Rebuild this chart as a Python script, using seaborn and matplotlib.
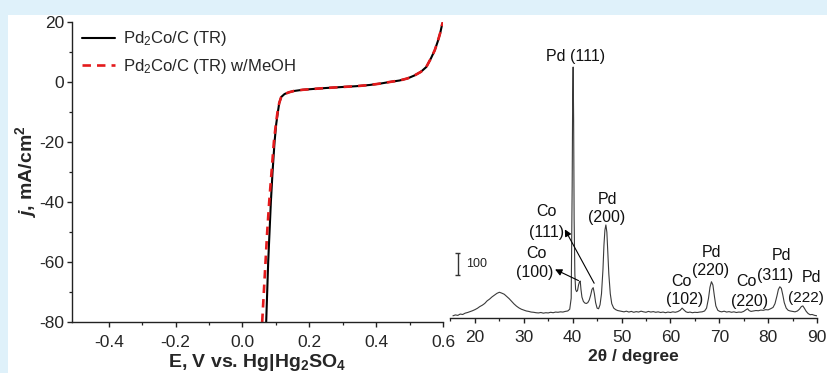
import matplotlib
matplotlib.use("Agg")
import matplotlib.pyplot as plt
from matplotlib.patches import Rectangle
from matplotlib.ticker import MultipleLocator, FixedLocator
import seaborn as sns

# ---------------- data ----------------
# Polarization curves
E_tr = [0.071, 0.074, 0.077, 0.081, 0.085, 0.090, 0.096, 0.101, 0.106, 0.110,
        0.116, 0.126, 0.140, 0.154, 0.180, 0.214, 0.250, 0.294, 0.340, 0.380,
        0.414, 0.440, 0.470, 0.494, 0.515, 0.534, 0.550, 0.564, 0.575, 0.584,
        0.592, 0.597, 0.600]
j_tr = [-80, -70, -60, -50, -40, -30, -20, -14, -10, -7,
        -5, -4.0, -3.4, -3.0, -2.6, -2.3, -2.0, -1.7, -1.4, -1.0,
        -0.5, 0.0, 0.5, 1.2, 2.2, 3.4, 5.0, 7.9, 10.5, 13.4,
        16.5, 19.0, 20.0]
E_meoh = [0.059, 0.064, 0.069, 0.074, 0.080, 0.087, 0.094, 0.100, 0.105, 0.110,
          0.116, 0.126, 0.140, 0.154, 0.180, 0.214, 0.250, 0.294, 0.340, 0.380,
          0.414, 0.440, 0.470, 0.494, 0.515, 0.534, 0.550, 0.564, 0.575, 0.584,
          0.592, 0.597, 0.600]
j_meoh = j_tr

labels_pol = ["Pd$_2$Co/C (TR)", "Pd$_2$Co/C (TR) w/MeOH"]

# XRD pattern (2theta, intensity counts)
two_theta = [15.5, 16.0, 16.5, 17.0, 17.5, 18.0, 18.5, 19.0, 19.5, 20.0,
             20.5, 21.0, 21.5, 22.0, 22.5, 23.0, 23.5, 24.0, 24.5, 25.0,
             25.5, 26.0, 26.5, 27.0, 27.5, 28.0, 28.5, 29.0, 29.5, 30.0,
             30.5, 31.0, 31.5, 32.0, 32.5, 33.0, 33.5, 34.0, 34.5, 35.0,
             35.5, 36.0, 36.5, 37.0, 37.5, 38.0, 38.5, 39.0, 39.4, 39.7,
             39.9, 40.0, 40.1, 40.2, 40.3, 40.45, 40.6, 40.8, 41.0, 41.2,
             41.4, 41.55, 41.7, 41.9, 42.2, 42.5, 42.8, 43.1, 43.4, 43.7,
             43.95, 44.2, 44.45, 44.7, 45.0, 45.3, 45.6, 45.9, 46.2, 46.4,
             46.6, 46.8, 47.0, 47.2, 47.4, 47.7, 48.0, 48.4, 48.8, 49.2,
             49.6, 50.0, 50.5, 51.0, 51.5, 52.0, 52.5, 53.0, 53.5, 54.0,
             54.5, 55.0, 55.5, 56.0, 56.5, 57.0, 57.5, 58.0, 58.5, 59.0,
             59.5, 60.0, 60.5, 61.0, 61.5, 62.0, 62.4, 62.8, 63.2, 63.6,
             64.0, 64.5, 65.0, 65.5, 66.0, 66.5, 67.0, 67.4, 67.8, 68.1,
             68.4, 68.7, 69.0, 69.3, 69.7, 70.1, 70.5, 71.0, 71.5, 72.0,
             72.5, 73.0, 73.5, 74.0, 74.5, 75.0, 75.5, 75.8, 76.1, 76.5,
             77.0, 77.5, 78.0, 78.5, 79.0, 79.5, 80.0, 80.5, 81.0, 81.4,
             81.8, 82.1, 82.4, 82.7, 83.0, 83.3, 83.7, 84.1, 84.5, 85.0,
             85.5, 86.0, 86.4, 86.8, 87.1, 87.4, 87.8, 88.2, 88.6, 89.0,
             89.5, 90.0]
intensity = [10, 14, 12, 18, 16, 22, 25, 29, 33, 38,
             44, 52, 58, 66, 78, 86, 96, 104, 112, 117,
             113, 108, 98, 88, 76, 64, 54, 46, 40, 36,
             32, 30, 27, 26, 24, 23, 25, 22, 24, 23,
             26, 24, 27, 26, 28, 27, 30, 32, 40, 90,
             600, 1000, 1141, 900, 450, 200, 130, 120, 125, 150,
             165, 168, 130, 95, 75, 68, 66, 70, 82, 105,
             130, 138, 110, 70, 45, 42, 60, 110, 220, 330,
             400, 423, 390, 300, 200, 110, 65, 45, 38, 34,
             32, 30, 28, 31, 27, 30, 26, 29, 27, 31,
             28, 26, 30, 27, 29, 26, 28, 25, 27, 24,
             27, 25, 28, 26, 29, 35, 45, 36, 28, 25,
             27, 24, 26, 25, 27, 28, 32, 45, 90, 140,
             165, 150, 100, 55, 35, 30, 28, 31, 27, 29,
             26, 28, 25, 27, 26, 30, 38, 42, 34, 30,
             32, 34, 33, 36, 35, 38, 37, 42, 48, 65,
             100, 130, 142, 135, 105, 70, 45, 35, 32, 30,
             28, 32, 40, 52, 55, 45, 30, 20, 15, 16,
             12, 10]

xrd_x_ticks = [20, 30, 40, 50, 60, 70, 80, 90]

# ---------------- style ----------------
sns.set_theme(style="ticks")
plt.rcParams["font.family"] = ["Liberation Sans", "DejaVu Sans"]
plt.rcParams["mathtext.fontset"] = "custom"
plt.rcParams["mathtext.default"] = "regular"
plt.rcParams["mathtext.it"] = "Liberation Sans:italic:bold"
plt.rcParams["mathtext.rm"] = "Liberation Sans"
plt.rcParams["axes.unicode_minus"] = False

W, H = 827, 373
fig = plt.figure(figsize=(W / 100, H / 100), dpi=100)
fig.patch.set_facecolor("#dff1fa")
fig.add_artist(Rectangle((8 / W, 0), 1, (H - 15) / H, transform=fig.transFigure,
                         facecolor="white", edgecolor="none", zorder=-10))

# ---------------- main axes ----------------
ax = fig.add_axes([72 / W, (H - 322) / H, (443 - 72) / W, 300 / H])
ax.set_facecolor("none")
sns.lineplot(x=E_tr, y=j_tr, ax=ax, color="black", lw=1.5, sort=False,
             estimator=None, label=labels_pol[0])
sns.lineplot(x=E_meoh, y=j_meoh, ax=ax, color="#e41a1c", lw=1.9, sort=False,
             estimator=None, label=labels_pol[1], linestyle=(0, (3.2, 2.3)))
ax.set_xlim(-0.51, 0.6)
ax.set_ylim(-80, 20)
ax.xaxis.set_major_locator(FixedLocator([-0.4, -0.2, 0.0, 0.2, 0.4, 0.6]))
ax.xaxis.set_minor_locator(FixedLocator([-0.3, -0.1, 0.1, 0.3, 0.5]))
ax.yaxis.set_major_locator(MultipleLocator(20))
ax.yaxis.set_minor_locator(MultipleLocator(10))
ax.xaxis.set_major_formatter(plt.FuncFormatter(lambda v, p: f"{v:.1f}"))
for s in ["top", "right"]:
    ax.spines[s].set_visible(False)
for s in ["left", "bottom"]:
    ax.spines[s].set_linewidth(1.0)
    ax.spines[s].set_color("#222222")
ax.tick_params(which="major", direction="out", length=3.6, width=1.0,
               labelsize=12.5, pad=2, color="#222222")
ax.tick_params(axis="x", which="major", pad=6)
ax.tick_params(which="minor", direction="out", length=2.2, width=0.9,
               color="#222222")
ax.set_xlabel("E, V vs. Hg|Hg$_2$SO$_4$", fontsize=14, fontweight="bold",
              labelpad=1)
ax.set_ylabel("$\\mathit{j}$, mA/cm$^2$", fontsize=14, fontweight="bold",
              labelpad=0)
leg = ax.legend(loc="upper left", bbox_to_anchor=(0.027, 0.975), frameon=False,
                fontsize=12, handlelength=2.0, handletextpad=0.45,
                labelspacing=0.5, borderaxespad=0, borderpad=0)

# ---------------- XRD inset ----------------
axi = fig.add_axes([450 / W, (H - 318) / H, 367 / W, 258 / H])
axi.set_facecolor("none")
sns.lineplot(x=two_theta, y=intensity, ax=axi, color="#3a3a3a", lw=0.8,
             sort=False, estimator=None)
axi.set_xlim(14.9, 90)
axi.set_ylim(0, 1173)
for s in ["top", "right", "left"]:
    axi.spines[s].set_visible(False)
axi.spines["bottom"].set_linewidth(1.0)
axi.spines["bottom"].set_color("#222222")
axi.set_yticks([])
axi.xaxis.set_major_locator(FixedLocator(xrd_x_ticks))
axi.xaxis.set_minor_locator(MultipleLocator(5))
axi.tick_params(which="major", direction="out", length=3.6, width=1.0,
                labelsize=12.5, pad=5, color="#222222")
axi.tick_params(which="minor", direction="out", length=2.2, width=0.9,
                color="#222222")
axi.set_xlabel("2\u03b8 / degree", fontsize=12.5, fontweight="bold", labelpad=3)

# scale bar
axi.vlines(16.5, 195, 295, color="#333333", lw=1.0)
axi.hlines([195, 295], 16.0, 17.0, color="#333333", lw=1.0)
axi.text(18.1, 245, "100", fontsize=9, ha="left", va="center", color="#222222")

# peak labels
lbl_fs = 11.5
peak_texts = [
    (40.6, 1191, "Pd (111)"),
    (34.7, 482, "Co"), (34.7, 391, "(111)"),
    (32.6, 291, "Co"), (32.3, 205, "(100)"),
    (47.2, 541, "Pd"), (47.0, 455, "(200)"),
    (62.3, 164, "Co"), (63.0, 82, "(102)"),
    (68.5, 300, "Pd"), (68.3, 214, "(220)"),
    (75.6, 164, "Co"), (76.3, 73, "(220)"),
    (82.8, 286, "Pd"), (81.4, 195, "(311)"),
    (88.9, 182, "Pd"),
]
for x, y, t in peak_texts:
    axi.text(x, y, t, fontsize=lbl_fs, ha="center", va="center",
             color="#111111", clip_on=False)
axi.text(84.0, 91, "(222)", fontsize=11, ha="left", va="center",
         color="#111111", clip_on=False)

# arrows (heads at the labels)
arrow_kw = dict(arrowstyle="-|>", color="black", lw=0.8, mutation_scale=10,
                shrinkA=0, shrinkB=0)
axi.annotate("", xy=(38.4, 403), xytext=(44.4, 158), arrowprops=arrow_kw)
axi.annotate("", xy=(36.4, 221), xytext=(41.2, 170), arrowprops=arrow_kw)

fig.savefig("out.png", dpi=100, facecolor=fig.get_facecolor())
